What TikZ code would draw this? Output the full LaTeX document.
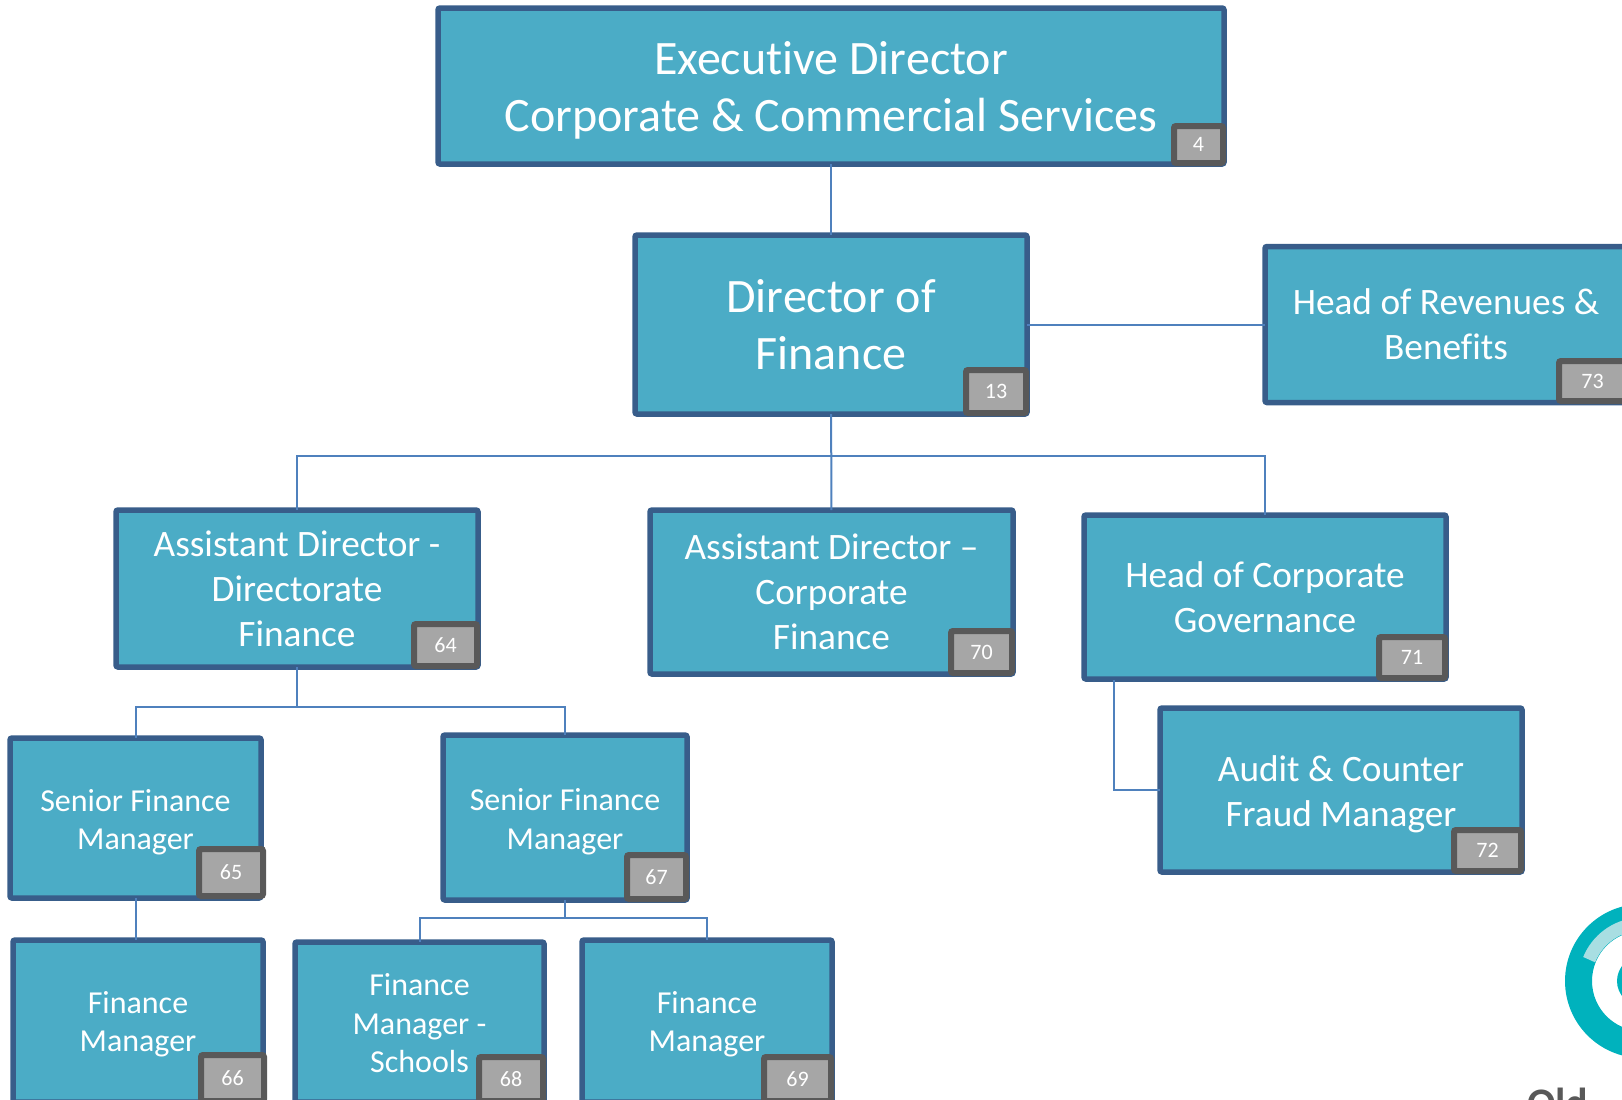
\documentclass[tikz,border=0pt]{standalone}
\usepackage{fontspec}
\setmainfont[Ligatures=NoCommon]{Carlito}
\definecolor{boxfill}{HTML}{4BACC6}
\definecolor{boxline}{HTML}{385D8A}
\definecolor{linkline}{HTML}{4F81BD}
\definecolor{badgefill}{HTML}{A6A6A6}
\definecolor{badgeline}{HTML}{595959}
\definecolor{logoteal}{HTML}{00B2BD}
\definecolor{logopale}{HTML}{A8DEE2}
\newcommand{\droptext}[1]{\rule{0pt}{#1}}
\tikzset{
	orgbox/.style={draw=boxline,fill=boxfill,line width=5.5pt,rounded corners=2pt,inner sep=0pt,outer sep=0pt,text=white,align=center},
	hugetext/.style={font=\fontsize{48}{57}\selectfont},
	bigtext/.style={font=\fontsize{37.3}{45}\selectfont},
	smalltext/.style={font=\fontsize{32}{38.5}\selectfont},
	badge/.style={draw=badgeline,fill=badgefill,line width=6pt,rounded corners=2pt,inner sep=0pt,outer sep=0pt,text=white,font=\fontsize{22}{25}\selectfont},
	link/.style={draw=linkline,line width=2pt}
}
\begin{document}
\begin{tikzpicture}[x=1pt,y=-1pt]
	\useasboundingbox (0,0) rectangle (1622,1100);
	\clip (0,0) rectangle (1622,1100);

	\node [orgbox,hugetext,minimum width=786pt,minimum height=156pt] (exec) at (831,86) {\droptext{41pt}Executive Director\\Corporate \& Commercial Services};
	\node [orgbox,hugetext,minimum width=392pt,minimum height=179pt] (dirfin) at (831,324.5) {Director of\\Finance};
	\node [orgbox,bigtext,minimum width=362pt,minimum height=156pt] (revben) at (1446,324.5) {Head of Revenues \&\\Benefits};

	\node [orgbox,bigtext,minimum width=362pt,minimum height=157pt] (addir) at (297,588.5) {Assistant Director -\\Directorate\\Finance};
	\node [orgbox,bigtext,minimum width=363pt,minimum height=164pt] (adcorp) at (831.5,592) {Assistant Director –\\Corporate\\Finance};
	\node [orgbox,bigtext,minimum width=362pt,minimum height=164pt] (headcg) at (1265,597) {Head of Corporate\\Governance};
	\node [orgbox,bigtext,minimum width=362pt,minimum height=164pt] (audit) at (1341,790) {\droptext{35pt}Audit \& Counter\\Fraud Manager};

	\node [orgbox,smalltext,minimum width=251pt,minimum height=160pt] (sfmone) at (135.5,818) {\droptext{30pt}Senior Finance\\Manager};
	\node [orgbox,smalltext,minimum width=244pt,minimum height=165pt] (sfmtwo) at (565,817.5) {\droptext{30pt}Senior Finance\\Manager};
	\node [orgbox,smalltext,minimum width=250pt,minimum height=162pt] (fmone) at (138,1021) {\droptext{28pt}Finance\\Manager};
	\node [orgbox,smalltext,minimum width=249pt,minimum height=160pt] (fmtwo) at (419.5,1022) {\droptext{25pt}Finance\\Manager -\\Schools};
	\node [orgbox,smalltext,minimum width=250pt,minimum height=162pt] (fmthree) at (707,1021) {\droptext{28pt}Finance\\Manager};

	% badges
	\foreach \num/\x/\y/\w/\h in {4/1198.5/144.5/49/37, 13/996/391.5/60/43, 73/1592.5/381/67/40,
		64/445.5/645/63/42, 70/981.5/652/61/42, 71/1412/657.5/66/41, 72/1487.5/850.5/67/41,
		65/231/872.5/64/47, 67/656.5/877/59/44, 66/232.5/1078/63/46, 68/511/1079/64/44, 69/797.5/1079/67/44}{
		\node [badge,minimum width=\w pt,minimum height=\h pt] (b\num) at (\x,\y) {\num};
	}

	% links
	\coordinate (busmain) at (831,456);
	\coordinate (busdir) at (297,707);
	\coordinate (bussfm) at (565,917.5);
	\coordinate (cgdrop) at (1114,680);

	\draw [link] (exec) -- (dirfin);
	\draw [link] (dirfin) -- (revben);
	\draw [link] (dirfin) -- (adcorp);
	\draw [link] (busmain) -| (addir);
	\draw [link] (busmain) -| (headcg);

	\draw [link] (addir) -- (busdir);
	\draw [link] (busdir) -| (sfmone);
	\draw [link] (busdir) -| (sfmtwo);
	\draw [link] (sfmone.south) -- (sfmone.south |- fmone.north);

	\draw [link] (sfmtwo) -- (bussfm);
	\draw [link] (bussfm) -| (fmtwo);
	\draw [link] (bussfm) -| (fmthree);

	\draw [link] (cgdrop) |- (audit);

	% logo
	\fill [logoteal,even odd rule] (1642,981) circle (77) circle (50) (1642,981) circle (25);
	\draw [logopale,line width=13pt] (1642,981) ++(-158:57) arc (-158:-95:57);
	\node [anchor=north west,inner sep=0pt,text=badgeline,font=\fontsize{42}{50}\bfseries\selectfont] (logotext) at (1527,1088) {Old};
\end{tikzpicture}
\end{document}
